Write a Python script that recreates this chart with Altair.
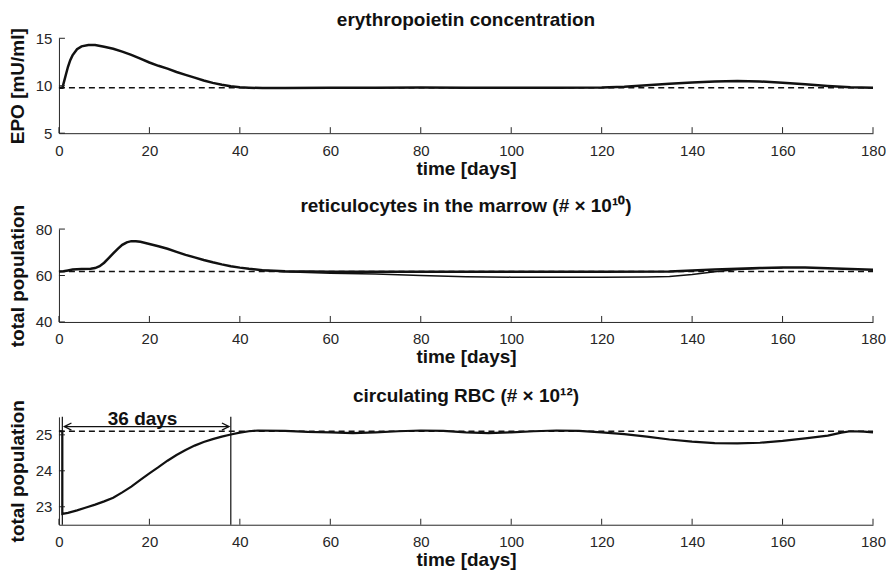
import altair as alt
import pandas as pd

FONT = "Liberation Sans"
INK = "#111111"
AXC = "#262626"

# ---------------- data ----------------
x_ticks = [0, 20, 40, 60, 80, 100, 120, 140, 160, 180]

epo_t = [0, 0.8, 1.0, 1.5, 2, 2.5, 3, 4, 5, 6.5, 8, 10, 12, 14, 16, 18, 20, 22, 24,
         26, 28, 30, 32, 34, 36, 38, 40, 42, 45, 50, 60, 70, 80, 90, 100, 110, 120,
         125, 130, 135, 140, 145, 150, 155, 160, 165, 170, 175, 180]
epo_v = [9.8, 9.8, 10.2, 11.1, 12.0, 12.7, 13.2, 13.85, 14.15, 14.3, 14.28, 14.1, 13.9,
         13.6, 13.25, 12.85, 12.45, 12.1, 11.8, 11.45, 11.15, 10.85, 10.55, 10.3, 10.1,
         9.95, 9.85, 9.8, 9.75, 9.75, 9.78, 9.8, 9.82, 9.8, 9.8, 9.8, 9.82,
         9.9, 10.05, 10.2, 10.35, 10.45, 10.5, 10.45, 10.32, 10.15, 9.98, 9.85, 9.8]
epo_base = 9.8
epo_yticks = [5, 10, 15]

ret_a_t = [0, 1, 2, 3, 5, 7, 8, 9, 10, 11, 12, 13, 14, 15, 16, 17, 18, 20, 22, 24, 26,
           28, 30, 32, 34, 36, 38, 40, 42, 45, 50, 60, 80, 100, 120, 135, 140, 145, 150,
           155, 160, 165, 170, 175, 180]
ret_a_v = [61.7, 61.8, 62.2, 62.6, 62.8, 62.9, 63.2, 64.0, 65.5, 67.5, 69.5, 71.5, 73.2,
           74.3, 74.8, 74.8, 74.5, 73.6, 72.6, 71.5, 70.2, 68.9, 67.8, 66.7, 65.7, 64.8,
           64.0, 63.4, 62.9, 62.3, 61.8, 61.6, 61.6, 61.6, 61.6, 61.7, 62.2, 62.6, 62.9,
           63.2, 63.4, 63.4, 63.1, 62.8, 62.5]
ret_b_t = [45, 50, 55, 60, 70, 80, 90, 100, 110, 120, 130, 135, 140, 145, 150, 155, 160]
ret_b_v = [62.3, 61.6, 61.3, 61.0, 60.6, 60.0, 59.5, 59.3, 59.2, 59.2, 59.4, 59.6, 60.4,
           61.6, 62.6, 63.1, 63.3]
ret_base = 61.7
ret_yticks = [40, 60, 80]

rbc_t = [0, 0.75, 0.75, 2, 4, 6, 8, 10, 12, 14, 16, 18, 20, 22, 24, 26, 28, 30, 32, 34,
         36, 38, 40, 42, 44, 50, 55, 60, 65, 70, 75, 80, 85, 90, 95, 100, 105, 110, 115,
         120, 125, 130, 135, 140, 145, 150, 155, 160, 165, 170, 173, 175, 178, 180]
rbc_v = [25.1, 25.1, 22.8, 22.83, 22.9, 22.98, 23.06, 23.15, 23.25, 23.4, 23.56, 23.75,
         23.93, 24.1, 24.28, 24.44, 24.58, 24.7, 24.8, 24.88, 24.95, 25.01, 25.06, 25.1,
         25.12, 25.11, 25.08, 25.07, 25.05, 25.07, 25.1, 25.12, 25.11, 25.07, 25.05,
         25.07, 25.1, 25.12, 25.11, 25.07, 25.02, 24.95, 24.87, 24.81, 24.77, 24.76,
         24.78, 24.83, 24.9, 24.98, 25.06, 25.1, 25.09, 25.07]
rbc_base = 25.1
rbc_yticks = [23, 24, 25]

marker_days = [0.75, 38]
arrow_t = [1.2, 37.6]
arrow_v = 25.23
label_text = "36 days"
label_t = 18.5
label_v = 25.28

W = 815
HEIGHTS = [95, 93, 108]
TITLE_OFFSETS = [-2, -12, -6]
XTITLE = "time [days]"


def frame(ts, vs):
    return pd.DataFrame({"t": ts, "v": vs, "i": list(range(len(ts)))})


def panel(title, ytitle, ydomain, yticks, height, toff, curves, base, extra=None):
    xs = alt.Scale(domain=[0, 180], nice=False, zero=False)
    ys = alt.Scale(domain=ydomain, nice=False, zero=False)
    X = alt.X("t:Q", scale=xs,
              axis=alt.Axis(values=x_ticks, title=XTITLE, labelFlush=False,
                            labelPadding=10, titlePadding=1, format="d"))
    Y = alt.Y("v:Q", scale=ys,
              axis=alt.Axis(values=yticks, title=ytitle, labelPadding=7,
                            titlePadding=8, format="d"))
    layers = []
    layers.append(
        alt.Chart(frame([0, 180], [base, base]))
        .mark_line(color=INK, strokeWidth=1.5, strokeDash=[6, 4])
        .encode(x=X, y=Y)
    )
    for ts, vs, sw in curves:
        layers.append(
            alt.Chart(frame(ts, vs))
            .mark_line(color=INK, strokeWidth=sw)
            .encode(x=X, y=Y, order="i:Q")
        )
    layers.append(
        alt.Chart(pd.DataFrame({"t": x_ticks}))
        .mark_rule(color=AXC, strokeWidth=1)
        .encode(x=X, y=alt.value(height), y2=alt.value(height - 6))
    )
    layers.append(
        alt.Chart(pd.DataFrame({"v": yticks}))
        .mark_rule(color=AXC, strokeWidth=1)
        .encode(y=Y, x=alt.value(0), x2=alt.value(6))
    )
    if extra:
        layers.extend(extra(X, Y))
    return alt.layer(*layers).properties(
        width=W, height=height,
        title=alt.TitleParams(title, fontSize=19, fontWeight="bold", font=FONT,
                              color=INK, anchor="middle", frame="group", offset=toff),
    )


def rbc_extra(X, Y):
    out = []
    out.append(
        alt.Chart(pd.DataFrame({"t": marker_days}))
        .mark_rule(color=INK, strokeWidth=1.2)
        .encode(x=X)
    )
    out.append(
        alt.Chart(frame(arrow_t, [arrow_v, arrow_v]))
        .mark_line(color=INK, strokeWidth=1.2)
        .encode(x=X, y=Y)
    )
    out.append(
        alt.Chart(frame([arrow_t[0]], [arrow_v]))
        .mark_point(shape="M1,-0.5L0,0L1,0.5", size=200, filled=False,
                    color=INK, strokeWidth=1.3, opacity=1)
        .encode(x=X, y=Y)
    )
    out.append(
        alt.Chart(frame([arrow_t[1]], [arrow_v]))
        .mark_point(shape="M-1,-0.5L0,0L-1,0.5", size=200, filled=False,
                    color=INK, strokeWidth=1.3, opacity=1)
        .encode(x=X, y=Y)
    )
    out.append(
        alt.Chart(pd.DataFrame({"t": [label_t], "v": [label_v], "s": [label_text]}))
        .mark_text(font=FONT, fontSize=19, fontWeight="bold", color=INK,
                   align="center", baseline="alphabetic")
        .encode(x=X, y=Y, text="s:N")
    )
    return out


p1 = panel("erythropoietin concentration", "EPO [mU/ml]", [5, 15], epo_yticks,
           HEIGHTS[0], TITLE_OFFSETS[0], [(epo_t, epo_v, 2.5)], epo_base)
p2 = panel("reticulocytes in the marrow (# × 10¹⁰)", "total population", [40, 80],
           ret_yticks, HEIGHTS[1], TITLE_OFFSETS[1],
           [(ret_b_t, ret_b_v, 1.5), (ret_a_t, ret_a_v, 2.5)], ret_base)
p3 = panel("circulating RBC (# × 10¹²)", "total population", [22.5, 25.5], rbc_yticks,
           HEIGHTS[2], TITLE_OFFSETS[2], [(rbc_t, rbc_v, 2.2)], rbc_base,
           extra=rbc_extra)

chart = (
    alt.vconcat(p1, p2, p3, spacing=19)
    .configure_view(stroke=None)
    .configure_axis(grid=False, ticks=False, domainColor=AXC, domainWidth=1,
                    labelFont=FONT, labelFontSize=15, labelColor=AXC,
                    titleFont=FONT, titleFontSize=19, titleFontWeight="bold",
                    titleColor=INK)
    .properties(background="white",
                padding={"left": 0, "top": 2, "right": 0, "bottom": 0})
)

chart.save("out.html", embed_options={"renderer": "svg", "actions": False})
